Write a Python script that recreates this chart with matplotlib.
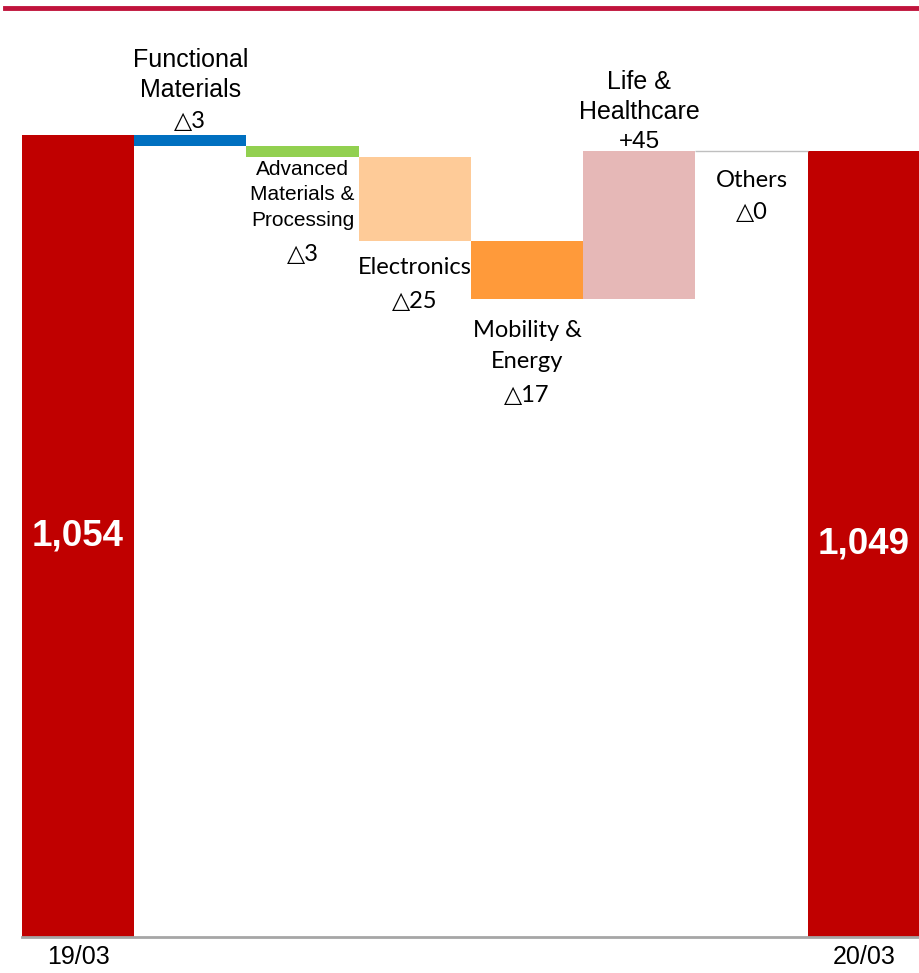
import numpy as np
import matplotlib.pyplot as plt
from matplotlib.lines import Line2D

# data (unrounded estimates; labels show the rounded values)
start_label, end_label = "19/03", "20/03"
start_value = 1054
end_value = 1049
segments = ["Functional\nMaterials", "Advanced\nMaterials &\nProcessing", "Electronics",
            "Mobility &\nEnergy", "Life &\nHealthcare", "Others"]
deltas = [-3.4, -3.4, -25.4, -17.4, 44.6, 0.0]
colors = ["#0070C0", "#92D050", "#FECB98", "#FF9A3A", "#E6B8B7", "#FFFFFF"]

ARIAL = ["Liberation Sans", "DejaVu Sans"]
CALIBRI = ["Lato", "DejaVu Sans"]


def delta_text(d):
    return f"+{round(d)}" if d > 0 else f"△{round(abs(d))}"


fig = plt.figure(figsize=(9.2, 9.73), dpi=100)
ax = fig.add_axes([22 / 920, 1 - 937 / 973, 1 - 22 / 920, (937 - 20) / 973])

# waterfall positions
levels = start_value + np.cumsum([0] + deltas)
bottoms = np.minimum(levels[:-1], levels[1:])
heights = np.abs(np.array(deltas))
xs = np.arange(1, len(deltas) + 1)

ax.bar(0, start_value, width=1.0, color="#C00000")
ax.bar(len(deltas) + 1, end_value, width=1.0, color="#C00000")
ax.bar(xs, heights, bottom=bottoms, width=1.0, color=colors)
# connector for the zero change
ax.hlines(levels[-1], xs[-1] - 0.5, xs[-1] + 0.5, color="#BFBFBF", lw=1)

ax.set_xlim(-0.5, len(deltas) + 1.5)
ymin = start_value - 802 / 3.3
ax.set_ylim(ymin, start_value + 115 / 3.3)

for s in ["top", "right", "left"]:
    ax.spines[s].set_visible(False)
ax.spines["bottom"].set_color("#A6A6A6")
ax.spines["bottom"].set_linewidth(2)
ax.set_yticks([])
ax.set_xticks([0, len(deltas) + 1])
ax.set_xticklabels([start_label, end_label], fontsize=18, family=ARIAL)
ax.tick_params(axis="x", length=0, pad=6)


def put(x, y, lines, offsets, size, family):
    for line, dy in zip(lines, offsets):
        ax.annotate(line, (x, y), xytext=(0, dy), textcoords="offset pixels",
                    ha="center", va="center", fontsize=size, family=family)


labels = [delta_text(d) for d in deltas]
put(1, levels[0], segments[0].split("\n"), [75, 45], 18, ARIAL)
put(1, levels[0], [labels[0]], [13], 17, CALIBRI)
put(2, bottoms[1], segments[1].split("\n"), [-12, -37, -63], 15, ARIAL)
put(2, bottoms[1], [labels[1]], [-97], 17, CALIBRI)
put(3, bottoms[2], [segments[2]], [-26], 17, CALIBRI)
put(3, bottoms[2], [labels[2]], [-60], 17, CALIBRI)
put(4, bottoms[3], segments[3].split("\n"), [-32, -63], 17, CALIBRI)
put(4, bottoms[3], [labels[3]], [-97], 17, CALIBRI)
put(5, levels[5], segments[4].split("\n"), [69, 39], 18, ARIAL)
put(5, levels[5], [labels[4]], [9], 17.5, ARIAL)
put(6, levels[6], [segments[5]], [-29], 17, CALIBRI)
put(6, levels[6], [labels[5]], [-61], 17, CALIBRI)

ax.text(0, (start_value + ymin) / 2, f"{start_value:,}", ha="center", va="center",
        color="white", fontsize=26.5, fontweight="bold", family=ARIAL)
ax.text(len(deltas) + 1, (end_value + ymin) / 2, f"{end_value:,}", ha="center", va="center",
        color="white", fontsize=26.5, fontweight="bold", family=ARIAL)

# header rule
fig.add_artist(Line2D([5 / 920, 1], [1 - 8 / 973] * 2, color="#C0143C", lw=3.5))

fig.savefig("out.png", dpi=100)
